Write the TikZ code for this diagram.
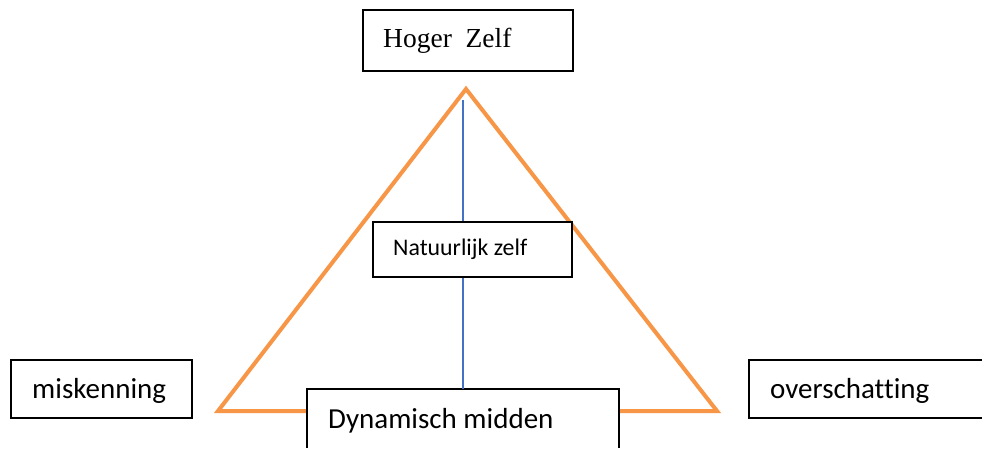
\documentclass[tikz,border=0pt]{standalone}
\usepackage{fontspec}
\setmainfont{Liberation Serif}
\newfontfamily\calib[Ligatures={NoCommon}]{Carlito}
\definecolor{triorange}{HTML}{F79646}
\definecolor{axisblue}{HTML}{4472C4}
\tikzset{
  box/.style={draw=black, line width=1.8pt, fill=white, inner sep=0pt},
  openbox/.style={draw=none, fill=white, inner sep=0pt},
  edge/.style={draw=black, line width=1.8pt, line join=miter},
  label/.style={anchor=base west, inner sep=0pt},
  tri/.style={draw=triorange, line width=4pt, line join=miter},
  axis/.style={draw=axisblue, line width=1.5pt}
}
\begin{document}
\begin{tikzpicture}[x=1pt, y=-1pt]
  \useasboundingbox (0,0) rectangle (982,448);
  \fill[white] (0,0) rectangle (982,448);

  % triangle corners
  \coordinate (apex) at (466,89);
  \coordinate (bl) at (218,411);
  \coordinate (br) at (717,411);
  \draw[tri] (apex) -- (bl) -- (br) -- cycle;

  % closed boxes
  \node[box, minimum width=210pt, minimum height=61pt] (hz) at (468,40.5) {};
  \node[box, minimum width=199pt, minimum height=55pt] (nz) at (472.5,249.5) {};
  \node[box, minimum width=181pt, minimum height=58pt] (mk) at (101.5,389) {};

  % boxes running off the page edge: open on the cut side
  \node[openbox, minimum width=312pt, minimum height=59pt] (dm) at (463,418.5) {};
  \draw[edge] (dm.south west) -- (dm.north west) -- (dm.north east) -- (dm.south east);
  \node[openbox, minimum width=233pt, minimum height=58pt] (ov) at (865.5,389) {};
  \draw[edge] (ov.north east) -- (ov.north west) -- (ov.south west) -- (ov.south east);

  % vertical axis from the apex down to the middle box
  \coordinate (axtop) at (463,100);
  \draw[axis] (axtop) -- (nz.north -| axtop);
  \draw[axis] (nz.south -| axtop) -- (dm.north);

  % labels
  \node[label, font=\fontsize{27.5}{30}\selectfont] (hzt) at (383,47) {Hoger\ \ Zelf};
  \node[label, font=\calib\fontsize{23.8}{26}\selectfont] (nzt) at (393,255) {Natuurlijk zelf};
  \node[label, font=\calib\fontsize{29}{32}\selectfont] (mkt) at (32,398) {miskenning};
  \node[label, font=\calib\fontsize{29}{32}\selectfont] (ovt) at (770,398) {overschatting};
  \node[label, font=\calib\fontsize{29}{32}\selectfont] (dmt) at (328,428) {Dynamisch midden};
\end{tikzpicture}
\end{document}
